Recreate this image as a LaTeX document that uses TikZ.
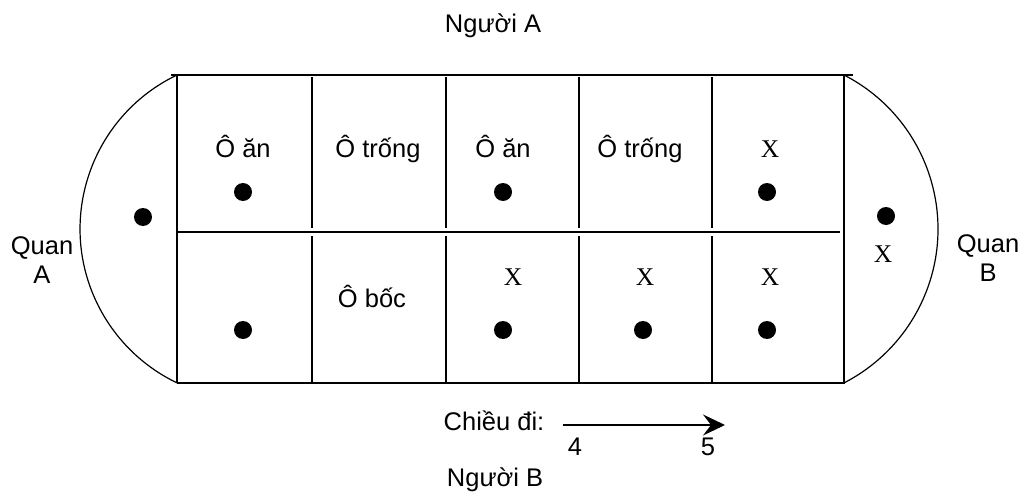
\documentclass[tikz,border=0pt]{standalone}
\usepackage{fontspec}
\setmainfont{Liberation Sans}
\newfontfamily\serifX{Liberation Serif}
\usetikzlibrary{arrows.meta}
\tikzset{
  seed/.style={circle, fill=black, inner sep=0pt, minimum size=18pt},
  lbl/.style={anchor=base, inner sep=0pt, font=\fontsize{25.5}{29}\selectfont},
  mark x/.style={lbl, font=\fontsize{25.5}{29}\serifX},
}
\begin{document}
\begin{tikzpicture}[x=1pt, y=1pt]
            \useasboundingbox (0,0) rectangle (1030,491);

            % board
            \draw [line width=1.4pt] (171,416) -- (853,416);
            \draw [line width=1.4pt] (177,108) -- (845,108);
            \draw [line width=1.4pt] (177,259) -- (840,259);
            \draw [line width=1.4pt] (177,416) -- (177,108);
            \draw [line width=1.4pt] (844,416) -- (844,108);
            \foreach \x in {312, 446, 579, 712} {
                \draw [line width=1.8pt] (\x,414) -- (\x,263);
                \draw [line width=1.8pt] (\x,255) -- (\x,108);
            }
            \draw [line width=1.2pt] (177,416) arc[start angle=115.6, end angle=244.4, radius=170.7pt];
            \draw [line width=1.2pt] (844,416) arc[start angle=62.8, end angle=-62.8, radius=173.1pt];

            % seeds
            \node[seed] at (143,274) (qa) {};
            \node[seed] at (886,275) (qb) {};
            \node[seed] at (243,299) (t1) {};
            \node[seed] at (503,299) (t3) {};
            \node[seed] at (767,299) (t5) {};
            \node[seed] at (243,161) (b1) {};
            \node[seed] at (503,161) (b3) {};
            \node[seed] at (643,161) (b4) {};
            \node[seed] at (767,161) (b5) {};

            % cell labels
            \node[lbl] at (243,334) (an1) {Ô ăn};
            \node[lbl] at (378,334) (trong1) {Ô trống};
            \node[lbl] at (503,334) (an2) {Ô ăn};
            \node[lbl] at (640,334) (trong2) {Ô trống};
            \node[mark x] at (770,334) (xt5) {X};
            \node[lbl] at (372,184) (boc) {Ô bốc};
            \node[mark x] at (513,206) (xb3) {X};
            \node[mark x] at (645,206) (xb4) {X};
            \node[mark x] at (770,206) (xb5) {X};
            \node[mark x] at (883,229) (xqb) {X};

            % players and quans
            \node[lbl] at (493,458) (nguoia) {Người A};
            \node[lbl] at (495,5) (nguoib) {Người B};
            \node[lbl, align=center] at (42,208) (quana) {Quan\\A};
            \node[lbl, align=center] at (988,210) (quanb) {Quan\\B};

            % direction
            \node[lbl] at (494,61) (chieu) {Chiều đi:};
            \coordinate (dir4) at (563,66);
            \coordinate (dir5) at (725,66);
            \draw [line width=1.6pt, -{Stealth[length=22pt, width=21pt, inset=8pt]}] (dir4) -- (dir5);
            \node[lbl] at (575,36) (four) {4};
            \node[lbl] at (708,36) (five) {5};
        \end{tikzpicture}
\end{document}
